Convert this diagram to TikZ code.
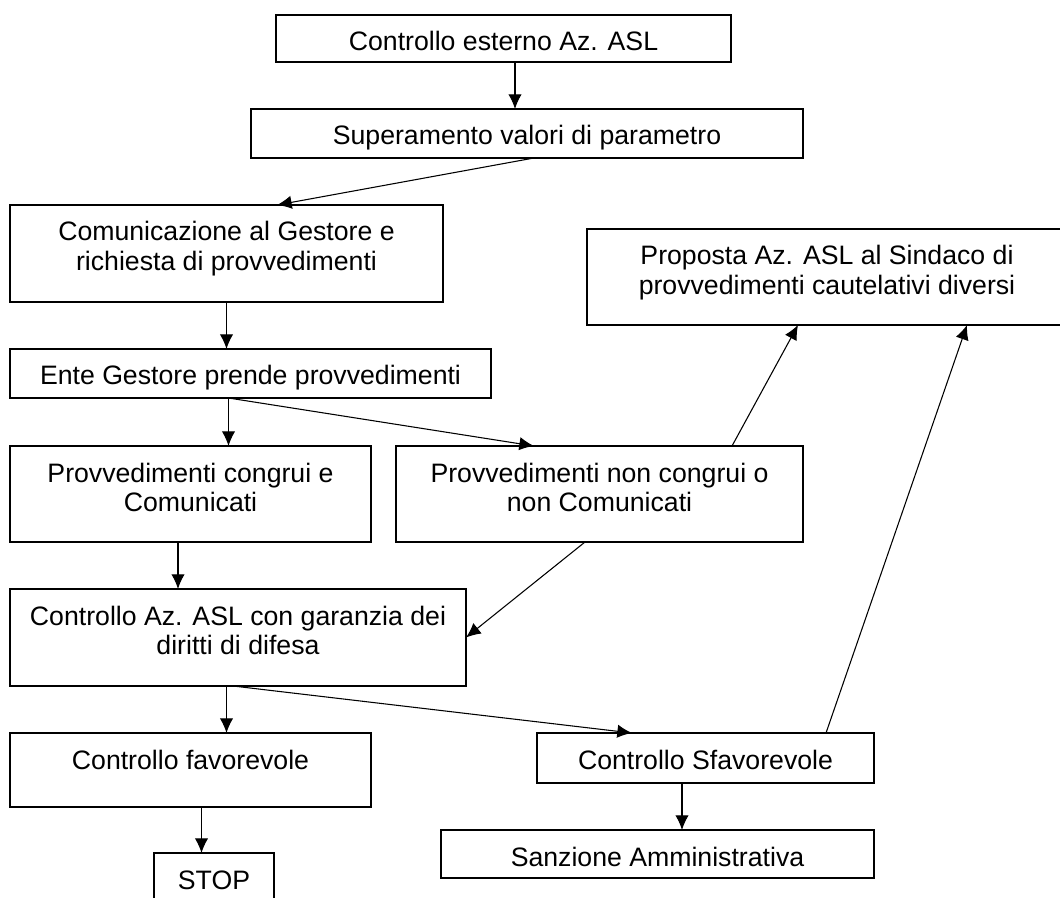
\documentclass[tikz,border=0pt]{standalone}
\usepackage{fontspec}
\setmainfont{Liberation Sans}
\usetikzlibrary{arrows.meta,calc}
\tikzset{
  >={Latex[length=11pt,width=10pt]},
  box/.style={draw, line width=1.4pt, anchor=north, outer sep=0pt, inner sep=0pt,
    align=center, font=\fontsize{20}{22}\selectfont, minimum width=#1*0.75pt},
  oneline/.style={text height=27pt, text depth=#1*0.75pt-27pt},
  twoline/.style={text height=49pt, text depth=#1*0.75pt-49pt},
  link/.style={->, line width=0.8pt}
}
\begin{document}
\begin{tikzpicture}[x=0.75pt,y=-0.75pt]
    \useasboundingbox (0,0) rectangle (1060,898);
    \node[box=455, oneline=47] (extctl) at (503.5,15) {Controllo esterno Az. ASL};
    \node[box=552, oneline=49] (exceed) at (527,109) {Superamento valori di parametro};
    \node[box=433, twoline=97] (notify) at (226.5,205) {Comunicazione al Gestore e\\richiesta di provvedimenti};
    \node[box=480, twoline=96] (mayor) at (827,229) {Proposta Az. ASL al Sindaco di\\provvedimenti cautelativi diversi};
    \node[box=481, oneline=49] (manager) at (250.5,349) {Ente Gestore prende provvedimenti};
    \node[box=361, twoline=96] (congr) at (190.5,446) {Provvedimenti congrui e\\Comunicati};
    \node[box=407, twoline=96] (noncongr) at (599.5,446) {Provvedimenti non congrui o\\non Comunicati};
    \node[box=456, twoline=97] (check) at (238,589) {Controllo Az. ASL con garanzia dei\\diritti di difesa};
    \node[box=361, oneline=74] (pass) at (190.5,733) {Controllo favorevole};
    \node[box=337, oneline=50] (fail) at (705.5,733) {Controllo Sfavorevole};
    \node[box=433, oneline=48] (fine) at (657.5,830) {Sanzione Amministrativa};
    \node[box=120, oneline=74] (stop) at (214,853) {STOP};
    \draw[link] ($(extctl.south)+(11.5,0)$) -- ($(exceed.north)+(-12,0)$);
    \draw[link] ($(exceed.south)+(7,0)$) -- ($(notify.north)+(50.5,0)$);
    \draw[link] (notify.south) -- (notify.south |- manager.north);
    \draw[link] ($(manager.south)+(-22,0)$) -- ($(congr.north)+(38,0)$);
    \draw[link] ($(manager.south)+(-22,0)$) -- ($(noncongr.north)+(-65.5,0)$);
    \draw[link] ($(noncongr.north)+(132.5,0)$) -- ($(mayor.south)+(-29,0)$);
    \draw[link] ($(noncongr.south)+(-14.5,0)$) -- (check.east);
    \draw[link] ($(congr.south)+(-12.5,0)$) -- ($(check.north)+(-60,0)$);
    \draw[link] ($(fail.north)+(120.5,0)$) -- ($(mayor.south)+(140,0)$);
    \draw[link] ($(check.south)+(-11.5,0)$) -- ($(pass.north)+(36,0)$);
    \draw[link] ($(check.south)+(-5,0)$) -- ($(fail.north)+(-73.5,0)$);
    \draw[link] ($(fail.south)+(-23.5,0)$) -- ($(fine.north)+(24.5,0)$);
    \draw[link] ($(pass.south)+(11,0)$) -- ($(stop.north)+(-12.5,0)$);
\end{tikzpicture}
\end{document}
